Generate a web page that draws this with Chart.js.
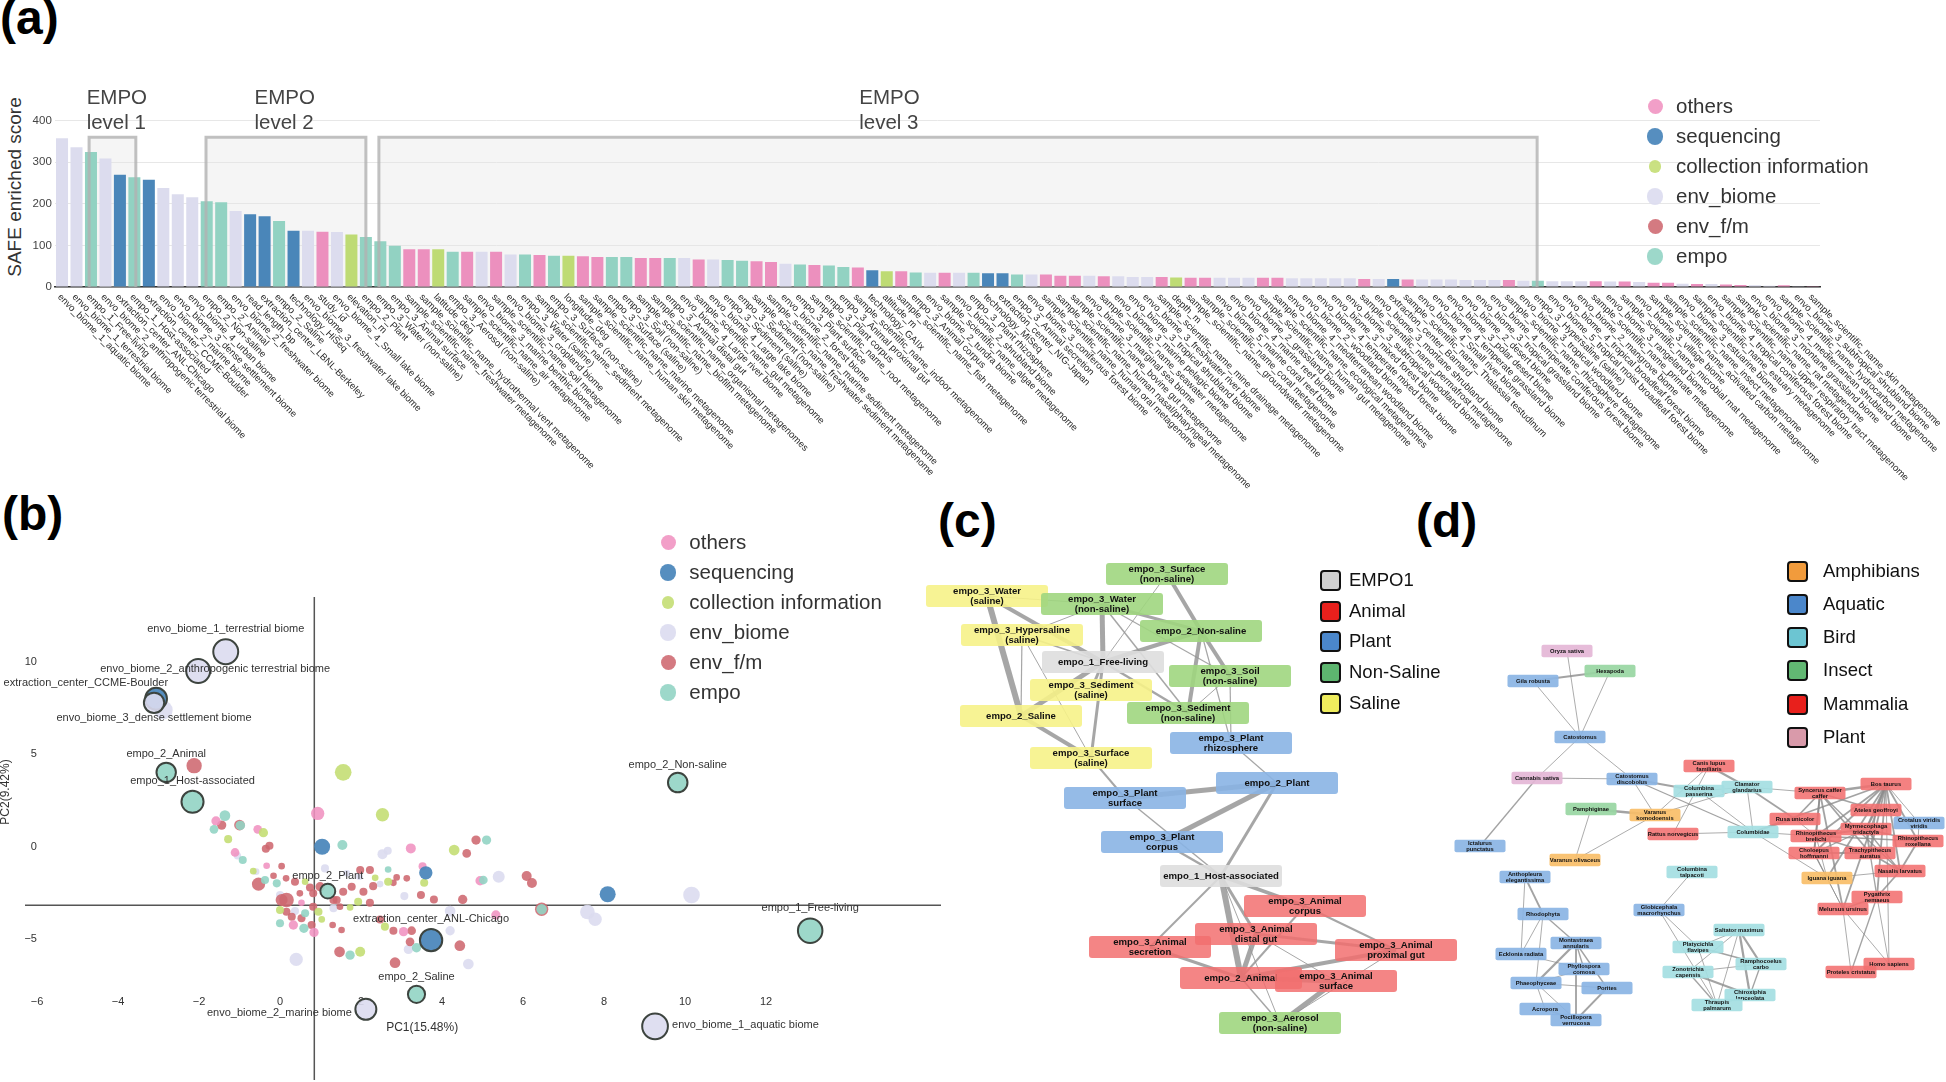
<!DOCTYPE html>
<html><head><meta charset="utf-8">
<script src="https://cdn.jsdelivr.net/npm/chart.js@4.4.0/dist/chart.umd.min.js"></script>
<style>
html,body{margin:0;padding:0;background:#fff;}
body{width:1946px;height:1082px;position:relative;overflow:hidden;font-family:"Liberation Sans",Arial,sans-serif;}
canvas{position:absolute;}
.plabel{position:absolute;font:bold 48px "Liberation Sans",Arial,sans-serif;color:#000;line-height:48px;white-space:nowrap;}
.ltxt{position:absolute;white-space:nowrap;}
.mk{position:absolute;}
</style></head><body>
<div class="plabel" style="left:0px;top:-6px">(a)</div>
<div class="plabel" style="left:2px;top:490px">(b)</div>
<div class="plabel" style="left:938px;top:497px">(c)</div>
<div class="plabel" style="left:1416px;top:497px">(d)</div>
<div id="ytitleA" class="ltxt" style="left:-85px;top:175px;width:200px;height:24px;line-height:24px;text-align:center;font-size:19px;color:#333;transform:rotate(-90deg);">SAFE enriched score</div>
<canvas id="cA" width="1946" height="500" style="left:0;top:0"></canvas>
<canvas id="cB" width="960" height="492" style="left:0;top:590px"></canvas>
<canvas id="cC" width="545" height="500" style="left:920px;top:555px"></canvas>
<canvas id="cD" width="516" height="410" style="left:1430px;top:640px"></canvas>
<script>
const FONT = '"Liberation Sans", Arial, sans-serif';
Chart.defaults.font.family = FONT;
Chart.defaults.animation = false;

// ---------------- (a) data ----------------
const categories = [
'envo_biome_1_aquatic biome','envo_biome_1_terrestrial biome','empo_1_Free-living','envo_biome_2_anthropogenic terrestrial biome',
'extraction_center_ANL-Chicago','empo_1_Host-associated','extraction_center_CCME-Boulder','envo_biome_2_marine biome',
'envo_biome_3_dense settlement biome','envo_biome_4_urban biome','empo_2_Non-saline','empo_2_Animal',
'envo_biome_2_freshwater biome','read_length_bp','extraction_center_LBNL-Berkeley','empo_2_Saline',
'technology_HiSeq','envo_biome_3_freshwater lake biome','study_id','envo_biome_4_Small lake biome',
'elevation_m','empo_2_Plant','empo_3_Water (non-saline)','empo_3_Animal surface',
'sample_scientific_name_freshwater metagenome','sample_scientific_name_hydrothermal vent metagenome','latitude_deg','empo_3_Aerosol (non-saline)',
'sample_scientific_name_air metagenome','envo_biome_3_marine benthic biome','sample_scientific_name_soil metagenome','envo_biome_3_cropland biome',
'empo_3_Water (saline)','sample_scientific_name_sediment metagenome','empo_3_Surface (non-saline)','longitude_deg',
'sample_scientific_name_human skin metagenome','sample_scientific_name_marine metagenome','empo_3_Surface (saline)','empo_3_Soil (non-saline)',
'sample_scientific_name_biofilm metagenome','sample_scientific_name_organismal metagenomes','empo_3_Animal distal gut','envo_biome_4_Large river biome',
'sample_scientific_name_gut metagenome','envo_biome_4_Large lake biome','empo_3_Sediment (saline)','empo_3_Sediment (non-saline)',
'sample_scientific_name_freshwater sediment metagenome','sample_scientific_name_marine sediment metagenome','envo_biome_2_forest biome','empo_3_Plant surface',
'sample_scientific_name_root metagenome','empo_3_Plant corpus','empo_3_Animal proximal gut','sample_scientific_name_indoor metagenome',
'technology_GAIIx','altitude_m','sample_scientific_name_fish metagenome','empo_3_Animal corpus',
'envo_biome_2_tundra biome','sample_scientific_name_algae metagenome','envo_biome_2_shrubland biome','empo_3_Plant rhizosphere',
'technology_MiSeq','extraction_center_NIG-Japan','empo_3_Animal secretion','envo_biome_3_coniferous forest biome',
'sample_scientific_name_human oral metagenome','sample_scientific_name_human nasal/pharyngeal metagenome','sample_scientific_name_bovine gut metagenome','envo_biome_3_marginal sea biome',
'sample_scientific_name_seawater metagenome','envo_biome_3_marine pelagic biome','envo_biome_3_tropical shrubland biome','envo_biome_3_freshwater river biome',
'sample_scientific_name_mine drainage metagenome','depth_m','sample_scientific_name_groundwater metagenome','sample_scientific_name_coral metagenome',
'envo_biome_5_marine coral reef biome','envo_biome_4_marine reef biome','envo_biome_2_grassland biome','sample_scientific_name_human gut metagenome',
'sample_scientific_name_ecological metagenomes','envo_biome_4_mediterranean woodland biome','envo_biome_2_woodland biome','envo_biome_4_temperate mixed forest biome',
'envo_biome_3_mixed forest biome','envo_biome_3_subtropical woodland biome','sample_scientific_name_permafrost metagenome','envo_biome_3_montane shrubland biome',
'extraction_center_Barnard','sample_scientific_name_Thalassia testudinum','envo_biome_4_Small river biome','envo_biome_4_temperate grassland biome',
'envo_biome_3_polar desert biome','envo_biome_2_desert biome','envo_biome_3_tropical grassland biome','envo_biome_4_temperate coniferous forest biome',
'sample_scientific_name_rhizosphere metagenome','envo_biome_3_tropical woodland biome','empo_3_Hypersaline (saline)','envo_biome_5_tropical moist broadleaf forest biome',
'envo_biome_4_tropical broadleaf forest biome','envo_biome_2_mangrove biome','sample_scientific_name_primate metagenome','envo_biome_3_rangeland biome',
'sample_scientific_name_microbial mat metagenome','envo_biome_3_village biome','sample_scientific_name_activated carbon metagenome','sample_scientific_name_insect metagenome',
'envo_biome_3_estuarine biome','sample_scientific_name_estuary metagenome','envo_biome_4_tropical coniferous forest biome','sample_scientific_name_upper respiratory tract metagenome',
'sample_scientific_name_rat metagenome','envo_biome_3_montane grassland biome','envo_biome_4_mediterranean shrubland biome','sample_scientific_name_hydrocarbon metagenome',
'envo_biome_3_subtropical shrubland biome','sample_scientific_name_skin metagenome'];
const scores = [358,336,325,309,270,264,258,238,223,216,206,204,183,175,170,159,135,135,133,132,
126,120,110,99,91,91,91,85,85,85,85,78,78,77,75,75,74,72,72,72,70,70,70,70,66,66,65,63,62,60,
56,54,53,52,48,47,40,38,38,35,34,34,34,34,33,33,30,30,30,27,27,27,26,26,24,24,24,23,22,22,
22,22,22,22,22,21,21,21,21,21,19,19,19,18,18,18,18,17,17,17,17,15,15,14,14,14,14,13,13,12,
10,10,8,7,7,6,5,4,3,4,2,2];
const yTicksA = [0,100,200,300,400];
const groupNames = ['others','sequencing','collection information','env_biome','env_f/m','empo'];
const empoBoxes = [
  {title:['EMPO','level 1'], from:1.87, to:5.1, textAt:1.7},
  {title:['EMPO','level 2'], from:9.95, to:21.0, textAt:13.3},
  {title:['EMPO','level 3'], from:21.9, to:101.95, textAt:55.1}
];
const empoBoxTop = 360;

// styles
const groupColor = {'others':'#ec90be','sequencing':'#4a86b9','collection information':'#bedb74','env_biome':'#dcdcee','env_f/m':'#d0727a','empo':'#92d2c2'};
const groupMarkerR = {'others':7.5,'sequencing':8.3,'collection information':6.3,'env_biome':8.3,'env_f/m':7.5,'empo':8.3};
function groupOf(name){
  if (name.startsWith('envo_biome')) return 'env_biome';
  if (name.startsWith('empo')) return 'empo';
  if (/^(extraction_center|technology|read_length)/.test(name)) return 'sequencing';
  if (/^(latitude|longitude|elevation|altitude|depth)/.test(name)) return 'collection information';
  return 'others';
}

const aPlugin = {
  id:'aDecor',
  beforeDatasetsDraw(chart){
    const {ctx, scales:{x,y}} = chart;
    ctx.save();
    ctx.fillStyle = 'rgba(228,228,228,0.38)';
    empoBoxes.forEach(b=>{
      const x0=x.getPixelForValue(b.from), x1=x.getPixelForValue(b.to);
      const y0=y.getPixelForValue(empoBoxTop), y1=y.getPixelForValue(0);
      ctx.fillRect(x0,y0,x1-x0,y1-y0);
    });
    ctx.restore();
  },
  afterDatasetsDraw(chart){
    const {ctx, scales:{x,y}} = chart;
    ctx.save();
    ctx.strokeStyle = 'rgba(178,178,178,0.8)';
    ctx.lineWidth = 3;
    empoBoxes.forEach(b=>{
      const x0=x.getPixelForValue(b.from), x1=x.getPixelForValue(b.to);
      const y0=y.getPixelForValue(empoBoxTop), y1=y.getPixelForValue(0);
      ctx.beginPath();
      ctx.moveTo(x0,y1); ctx.lineTo(x0,y0); ctx.lineTo(x1,y0); ctx.lineTo(x1,y1);
      ctx.stroke();
    });
    ctx.fillStyle = '#444';
    ctx.font = '20.5px ' + FONT;
    ctx.textAlign = 'left';
    ctx.textBaseline = 'alphabetic';
    empoBoxes.forEach(b=>{
      const tx = x.getPixelForValue(b.textAt);
      ctx.fillText(b.title[0], tx, y.getPixelForValue(439));
      ctx.fillText(b.title[1], tx, y.getPixelForValue(379));
    });
    ctx.restore();
  },
  afterDraw(chart){
    const {ctx, scales:{x,y}} = chart;
    ctx.save();
    ctx.fillStyle = '#2a2a2a';
    ctx.font = '9.6px ' + FONT;
    ctx.textAlign = 'left';
    ctx.textBaseline = 'middle';
    const y0 = y.getPixelForValue(0);
    categories.forEach((c,i)=>{
      const px = x.getPixelForValue(i);
      ctx.save();
      ctx.translate(px - 3, y0 + 8.5);
      ctx.rotate(Math.PI/4);
      ctx.fillText(c, 0, 0);
      ctx.restore();
    });
    ctx.restore();
  }
};

new Chart(document.getElementById('cA'), {
  type:'bar',
  data:{labels:categories, datasets:[{data:scores, backgroundColor:categories.map(c=>groupColor[groupOf(c)]), borderWidth:0, barPercentage:0.83, categoryPercentage:1}]},
  options:{
    responsive:false, animation:false, events:[],
    layout:{padding:{left:0,right:126,top:120.7,bottom:213}, autoPadding:false},
    plugins:{legend:{display:false}, tooltip:{enabled:false}},
    scales:{
      x:{grid:{display:false}, ticks:{display:false}, border:{display:true,color:'#333',width:1.5}, afterFit(s){s.height=0;}},
      y:{min:0,max:400, grid:{color:'#e7e7e7',drawTicks:false}, border:{display:false},
         afterBuildTicks(s){ s.ticks = yTicksA.map(v=>({value:v})); },
         ticks:{padding:3,color:'#444',font:{size:11.5}}, afterFit(s){s.width=54.8;}}
    }
  },
  plugins:[aPlugin]
});

// ---------------- (b) data ----------------
// [name, group, PC1, PC2, SAFE score]
const pcaLabelled = [
 ['envo_biome_1_terrestrial biome','env_biome',-1.34,10.54,336],
 ['envo_biome_2_anthropogenic terrestrial biome','env_biome',-2.02,9.50,309],
 ['extraction_center_CCME-Boulder','sequencing',-3.06,8.00,258],
 ['envo_biome_3_dense settlement biome','env_biome',-3.11,7.78,223],
 ['empo_2_Animal','empo',-2.81,4.02,204],
 ['empo_1_Host-associated','empo',-2.16,2.43,264],
 ['empo_2_Plant','empo',1.18,-2.40,120],
 ['extraction_center_ANL-Chicago','sequencing',3.73,-5.05,270],
 ['empo_2_Saline','empo',3.37,-7.98,159],
 ['envo_biome_2_marine biome','env_biome',2.12,-8.79,238],
 ['empo_2_Non-saline','empo',9.82,3.47,206],
 ['empo_1_Free-living','empo',13.09,-4.54,325],
 ['envo_biome_1_aquatic biome','env_biome',9.26,-9.71,358]
];
// [PC1, PC2, score]
const pcaOthers = [[0.93,1.80,96],[3.23,-0.09,54],[3.52,-1.05,35],[4.94,-1.84,47],[3.05,-4.59,47],[-1.58,1.39,47],[-0.55,0.94,41],[-1.11,-0.31,41],[-0.33,-1.03,24],[0.53,-3.03,24],[0.33,-4.23,47],[0.84,-4.63,47],[5.33,-3.69,47]];
const pcaSequencing = [[1.04,0.00,138],[3.60,-1.41,96],[8.09,-2.57,138]];
const pcaCollection = [[1.56,4.02,150],[2.53,1.73,96],[4.30,-0.18,62],[3.56,-1.95,35],[2.67,-1.89,35],[2.35,-1.68,24],[2.59,-4.32,35],[1.98,-5.68,54],[-0.41,0.76,47],[-1.28,0.41,35],[-0.66,-1.32,24],[0.62,-1.89,24],[0.95,-3.51,35],[0.00,-3.42,35],[1.03,-3.93,24],[1.93,-2.97,35],[1.73,-3.28,24]];
const pcaEnvBiome = [[-2.88,7.39,188],[2.53,-0.40,54],[2.66,-0.22,35],[5.40,-1.62,78],[3.07,-2.67,35],[4.20,-3.48,62],[4.20,-4.54,47],[4.65,-6.34,62],[3.17,-5.55,47],[0.40,-6.09,96],[-1.05,-0.49,29],[-0.59,-1.35,24],[0.00,-2.61,35],[0.37,-3.48,35],[1.11,-1.17,35],[1.65,-1.44,24],[1.96,-1.62,24],[2.47,-2.02,24],[1.32,-3.33,35],[10.16,-2.61,150],[7.59,-3.53,116],[7.78,-3.92,96]];
const pcaEnvFM = [[-2.12,4.38,127],[-1.44,1.17,47],[-1.00,1.17,62],[-0.26,0.05,35],[-0.35,-0.11,35],[0.04,-1.05,24],[-0.53,-2.02,96],[-0.16,-1.57,24],[0.15,-1.71,24],[0.16,-2.88,116],[0.04,-2.88,78],[0.37,-1.89,35],[0.74,-2.20,35],[0.49,-2.52,24],[0.82,-2.52,35],[0.82,-3.24,35],[0.16,-3.51,35],[0.29,-3.78,35],[0.53,-3.87,35],[0.78,-4.23,35],[1.30,-4.23,24],[1.52,-4.50,24],[1.40,-2.88,35],[1.56,-2.43,35],[1.77,-2.16,35],[1.98,-1.26,35],[2.22,-1.26,35],[2.06,-2.43,35],[2.30,-2.13,35],[2.22,-3.03,35],[0.99,-2.16,47],[1.32,-2.88,35],[1.48,-3.24,24],[2.88,-1.66,24],[2.80,-1.95,24],[3.13,-1.71,24],[3.80,-2.85,35],[3.48,-2.61,35],[4.51,-2.85,47],[4.84,0.36,47],[4.61,-0.36,41],[4.44,-5.35,62],[2.84,-6.27,62],[3.21,-5.14,41],[3.25,-4.54,41],[2.80,-4.54,35],[2.47,-3.93,35],[1.47,-5.68,62],[6.09,-1.58,54],[6.22,-1.96,54],[6.46,-3.38,96]];
const pcaEmpo = [[-1.36,1.68,62],[-1.63,0.94,41],[-0.98,1.15,50],[-0.92,-0.72,35],[-0.37,-1.80,35],[-0.08,-1.98,35],[0.62,-3.60,35],[0.00,-4.14,35],[0.59,-4.41,47],[1.54,0.09,54],[2.67,-1.23,24],[5.10,0.36,47],[5.02,-1.80,41],[3.37,-5.46,47],[1.73,-5.86,47],[6.46,-3.38,60]];
const pcaCross = {x:0.847, y:-3.17};
const xTicksB = [-6,-4,-2,0,2,4,6,8,10,12];
const yTicksB = [-5,0,5,10];
const pcaAxisTitles = {x:'PC1(15.48%)', y:'PC2(9.42%)'};

// styles for (b)
const bubbleFill = {'others':'rgba(240,146,192,0.88)','sequencing':'rgba(72,132,186,0.92)','collection information':'rgba(196,222,116,0.9)','env_biome':'rgba(220,220,240,0.9)','env_f/m':'rgba(206,104,112,0.88)','empo':'rgba(146,212,196,0.9)'};
const radiusFor = s => 0.68*Math.sqrt(s);
const labelPlacement = [['center',0,-23],['center',17,-2],['right',12,-16],['center',0,15],['center',0,-18],['center',0,-21],['center',0,-15],['center',0,-21],['center',0,-17],['right',-14,4],['center',0,-18],['center',0,-23],['left',17,-1]];
const toBubbles = arr => arr.map(p=>({x:p[0], y:p[1], r:radiusFor(p[2])}));
const minus = v => (v<0?'\u2212':'') + Math.abs(v);
function noPad(s){ s.paddingTop=0; s.paddingBottom=0; s.paddingLeft=0; s.paddingRight=0; }

const bPlugin = {
  id:'bDecor',
  beforeDatasetsDraw(chart){
    const {ctx, chartArea:a, scales:{x,y}} = chart;
    const px = x.getPixelForValue(pcaCross.x), py = y.getPixelForValue(pcaCross.y);
    ctx.save();
    ctx.strokeStyle = '#555'; ctx.lineWidth = 1.5;
    ctx.beginPath();
    ctx.moveTo(px,a.top); ctx.lineTo(px,a.bottom);
    ctx.moveTo(a.left,py); ctx.lineTo(a.right,py);
    ctx.stroke();
    ctx.restore();
  },
  afterDatasetsDraw(chart){
    const {ctx, scales:{x,y}} = chart;
    const meta = chart.getDatasetMeta(0);
    ctx.save();
    ctx.fillStyle = '#333';
    ctx.font = '11px ' + FONT;
    ctx.textBaseline = 'middle';
    pcaLabelled.forEach((p,i)=>{
      const el = meta.data[i]; const pl = labelPlacement[i];
      ctx.textAlign = pl[0];
      ctx.fillText(p[0], el.x + pl[1], el.y + pl[2]);
    });
    ctx.font = '12px ' + FONT;
    ctx.textAlign = 'center';
    ctx.fillText(pcaAxisTitles.x, x.getPixelForValue(3.51), y.getPixelForValue(-9.8));
    ctx.save();
    ctx.translate(x.getPixelForValue(-6.77), y.getPixelForValue(2.96));
    ctx.rotate(-Math.PI/2);
    ctx.fillText(pcaAxisTitles.y, 0, 0);
    ctx.restore();
    ctx.restore();
  }
};

new Chart(document.getElementById('cB'), {
  type:'bubble',
  data:{datasets:[
    {label:'labelled', data:pcaLabelled.map(p=>({x:p[2],y:p[3],r:radiusFor(p[4])})), backgroundColor:pcaLabelled.map(p=>bubbleFill[p[1]]), borderColor:'#3d443f', borderWidth:2, clip:false},
    {label:'empo', data:toBubbles(pcaEmpo), backgroundColor:bubbleFill['empo'], borderWidth:0, clip:false},
    {label:'sequencing', data:toBubbles(pcaSequencing), backgroundColor:bubbleFill['sequencing'], borderWidth:0, clip:false},
    {label:'collection information', data:toBubbles(pcaCollection), backgroundColor:bubbleFill['collection information'], borderWidth:0, clip:false},
    {label:'others', data:toBubbles(pcaOthers), backgroundColor:bubbleFill['others'], borderWidth:0, clip:false},
    {label:'env_f/m', data:toBubbles(pcaEnvFM), backgroundColor:bubbleFill['env_f/m'], borderWidth:0, clip:false},
    {label:'env_biome', data:toBubbles(pcaEnvBiome), backgroundColor:bubbleFill['env_biome'], borderWidth:0, clip:false}
  ]},
  options:{
    responsive:false, animation:false, events:[],
    layout:{padding:{left:25,right:19,top:7,bottom:2}, autoPadding:false},
    plugins:{legend:{display:false}, tooltip:{enabled:false}},
    scales:{
      x:{type:'linear', min:-6.296, max:16.32, position:{y:-7.58}, grid:{display:false}, border:{display:false},
         afterBuildTicks(s){ s.ticks = xTicksB.map(v=>({value:v})); },
         afterFit(s){ noPad(s); s.height = 0; },
         ticks:{padding:0, color:'#333', font:{size:11}, callback:v=>minus(v)}},
      y:{type:'linear', min:-12.61, max:13.5, position:{x:-6.0}, grid:{display:false}, border:{display:false},
         afterBuildTicks(s){ s.ticks = yTicksB.map(v=>({value:v})); },
         afterFit(s){ noPad(s); s.width = 0; },
         ticks:{padding:2, color:'#333', font:{size:11}, callback:v=>minus(v)}}
    }
  },
  plugins:[bPlugin]
});

// ---------------- (c) network ----------------
// [id, label, group, layoutX, layoutY]
const cNodes = [
 ['SurfNS','empo_3_Surface\n(non-saline)','Non-Saline',247,19],
 ['WatS','empo_3_Water\n(saline)','Saline',67,41],
 ['WatNS','empo_3_Water\n(non-saline)','Non-Saline',182,49],
 ['Hyper','empo_3_Hypersaline\n(saline)','Saline',102,80],
 ['NonSal','empo_2_Non-saline','Non-Saline',281,76],
 ['Free','empo_1_Free-living','EMPO1',183,107],
 ['Soil','empo_3_Soil\n(non-saline)','Non-Saline',310,121],
 ['SedS','empo_3_Sediment\n(saline)','Saline',171,135],
 ['SedNS','empo_3_Sediment\n(non-saline)','Non-Saline',268,158],
 ['Sal','empo_2_Saline','Saline',101,161],
 ['Rhizo','empo_3_Plant\nrhizosphere','Plant',311,188],
 ['SurfS','empo_3_Surface\n(saline)','Saline',171,203],
 ['Plant','empo_2_Plant','Plant',357,228],
 ['PSurf','empo_3_Plant\nsurface','Plant',205,243],
 ['PCorp','empo_3_Plant\ncorpus','Plant',242,287],
 ['Host','empo_1_Host-associated','EMPO1',301,321],
 ['ACorp','empo_3_Animal\ncorpus','Animal',385,351],
 ['ADist','empo_3_Animal\ndistal gut','Animal',336,379],
 ['ASecr','empo_3_Animal\nsecretion','Animal',230,392],
 ['AProx','empo_3_Animal\nproximal gut','Animal',476,395],
 ['Animal','empo_2_Animal','Animal',321,423],
 ['ASurf','empo_3_Animal\nsurface','Animal',416,426],
 ['Aero','empo_3_Aerosol\n(non-saline)','Non-Saline',360,468]
];
// [from, to, weight]
const cEdges = [
 ['WatS','Sal',6],['Hyper','Sal',1.2],['WatS','Free',4],['Sal','Free',5],['Sal','SurfS',4],['Free','WatNS',5],['Free','NonSal',4],
 ['Free','SedNS',2.5],['NonSal','SurfNS',4],['NonSal','Soil',4],['NonSal','SedNS',4],['WatNS','NonSal',3],['WatNS','Soil',1.2],
 ['WatNS','SedNS',1.5],['SurfNS','Free',1],['Hyper','WatNS',1],['Hyper','SurfS',1],['Hyper','Free',1.5],['Free','SurfS',3],
 ['Free','SedS',3],['Soil','SedNS',1],['Soil','Rhizo',1.2],['NonSal','Rhizo',1.2],['Rhizo','Plant',1.2],['Plant','PSurf',5],
 ['Plant','PCorp',5],['Plant','Host',3],['PSurf','Host',1.5],['PCorp','Host',2.5],['SurfS','PSurf',2],['Host','ACorp',3.5],
 ['Host','ADist',3],['Host','ASecr',2],['Host','Animal',6],['Animal','ADist',5],['Animal','ASecr',3],['Animal','ASurf',5],
 ['Animal','Aero',1.5],['ASurf','Aero',5],['ADist','AProx',3],['ACorp','AProx',2],['AProx','Animal',4],['ADist','ASurf',1],
 ['ACorp','Animal',2],['AProx','Aero',1],['Host','Aero',1],['WatS','WatNS',1]
];
const cGroups = ['EMPO1','Animal','Plant','Non-Saline','Saline'];
const cNodeFill = {'EMPO1':'rgba(222,222,222,0.9)','Animal':'rgba(242,112,112,0.85)','Plant':'rgba(138,180,228,0.9)','Non-Saline':'rgba(160,214,128,0.9)','Saline':'rgba(246,242,136,0.9)'};
const cLegendFill = {'EMPO1':'#d0d0d0','Animal':'#e8201c','Plant':'#4b87cb','Non-Saline':'#5db56f','Saline':'#efed5d'};

// ---------------- (d) network ----------------
const dNodes = [
 ['Oryza','Oryza sativa','Plant',137,11],['Hexa','Hexapoda','Insect',180,31],['Gila','Gila robusta','Aquatic',103,41],
 ['Cato','Catostomus','Aquatic',150,97],['Cann','Cannabis sativa','Plant',107,138],['CatD','Catostomus\ndiscobolus','Aquatic',202,139],
 ['Canis','Canis lupus\nfamiliaris','Mammalia',279,126],['ColP','Columbina\npasserina','Bird',269,151],['Clam','Clamator\nglandarius','Bird',317,147],
 ['Pamph','Pamphiginae','Insect',161,169],['VarK','Varanus\nkomodoensis','Amphibians',225,175],['Ict','Ictalurus\npunctatus','Aquatic',50,206],
 ['Ratt','Rattus norvegicus','Mammalia',243,194],['Colu','Columbidae','Bird',323,192],['VarO','Varanus olivaceus','Amphibians',145,220],
 ['Sync','Syncerus caffer\ncaffer','Mammalia',390,153],['Bos','Bos taurus','Mammalia',456,144],['Rusa','Rusa unicolor','Mammalia',365,179],
 ['Atel','Ateles geoffroyi','Mammalia',446,170],['Crot','Crotalus viridis\nviridis','Aquatic',489,183],['Myrm','Myrmecophaga\ntridactyla','Mammalia',436,189],
 ['RhiB','Rhinopithecus\nbrelichi','Mammalia',386,196],['RhiR','Rhinopithecus\nroxellana','Mammalia',488,201],['Chol','Choloepus\nhoffmanni','Mammalia',384,213],
 ['Trac','Trachypithecus\nauratus','Mammalia',440,213],['Nasa','Nasalis larvatus','Mammalia',470,231],['Igua','Iguana iguana','Amphibians',397,238],
 ['Pyga','Pygathrix\nnemaeus','Mammalia',447,257],['Melu','Melursus ursinus','Mammalia',413,269],['ColT','Columbina\ntalpacoti','Bird',262,232],
 ['Anth','Anthopleura\nelegantissima','Aquatic',95,237],['Glob','Globicephala\nmacrorhynchus','Aquatic',229,270],['Rhod','Rhodophyta','Aquatic',113,274],
 ['Salt','Saltator maximus','Bird',309,290],['Mont','Montastraea\nannularis','Aquatic',146,303],['Plat','Platycichla\nflavipes','Bird',268,307],
 ['Eckl','Ecklonia radiata','Aquatic',91,314],['Ramp','Ramphocoelus\ncarbo','Bird',331,324],['Homo','Homo sapiens','Mammalia',459,324],
 ['Phyl','Phyllospora\ncomosa','Aquatic',154,329],['Zono','Zonotrichia\ncapensis','Bird',258,332],['Prot','Proteles cristatus','Mammalia',421,332],
 ['Phae','Phaeophyceae','Aquatic',106,343],['Pori','Porites','Aquatic',177,348],['Chir','Chiroxiphia\nlanceolata','Bird',320,355],
 ['Thra','Thraupis\npalmarum','Bird',287,365],['Acro','Acropora','Aquatic',115,369],['Poci','Pocillopora\nverrucosa','Aquatic',146,380]
];
const dEdges = [
 ['Oryza','Cato',1],['Gila','Hexa',2],['Gila','Cato',1],['Hexa','Cato',1],['Cato','Cann',1],['Cato','CatD',1],['Cann','CatD',1],['Cann','Ict',1.5],
 ['CatD','ColP',2.5],['CatD','VarK',1],['CatD','Colu',1.5],['Pamph','VarK',3],['Pamph','VarO',1],['VarK','VarO',1],['VarK','Canis',1],['VarK','Clam',1],
 ['Canis','Clam',2.5],['Canis','Ratt',1],['ColP','Colu',1],['ColP','Clam',1],['Ratt','Colu',1],['Clam','Colu',1],['Clam','Sync',1],['Clam','Rusa',2],
 ['Colu','Rusa',1.5],['Colu','Bos',2],['Colu','RhiB',1],['Colu','Igua',1],
 ['Bos','Sync',3],['Bos','Atel',2],['Bos','Myrm',2],['Bos','RhiB',2],['Bos','RhiR',2],['Bos','Crot',1],['Bos','Chol',2],['Bos','Trac',2],['Bos','Nasa',2],
 ['Bos','Pyga',2],['Bos','Melu',2],['Bos','Igua',2],['Bos','Homo',1],['Sync','Atel',2],['Sync','RhiB',2],['Sync','Chol',2],['Sync','Melu',2],['Sync','Trac',2],
 ['Sync','Nasa',1.5],['Sync','Rusa',2],['Atel','Myrm',2],['Atel','Trac',1.5],['Myrm','RhiB',2],['Myrm','RhiR',1.5],['Myrm','Trac',2],['Myrm','Chol',1.5],
 ['Myrm','Nasa',1.5],['RhiB','Trac',2],['RhiB','Chol',2],['RhiB','RhiR',1.5],['Chol','Trac',2],['Chol','Igua',1.5],['Chol','Melu',1],['Trac','Nasa',2],
 ['Trac','Pyga',1.5],['RhiR','Nasa',2],['Nasa','Pyga',2],['Nasa','Igua',1],['Pyga','Melu',1.5],['Pyga','Prot',1.5],['Pyga','Homo',1],['Melu','Prot',1],
 ['Melu','Homo',1],['Igua','Melu',1],['Crot','RhiR',1],['Crot','Atel',1],['RhiB','Igua',1],['Rusa','RhiB',1],
 ['ColT','Glob',1],['Glob','Thra',1],['Glob','Plat',1],['Salt','Plat',1],['Salt','Ramp',2.5],['Salt','Zono',1],['Salt','Chir',2.5],['Salt','Thra',1],
 ['Plat','Ramp',2],['Plat','Thra',1],['Zono','Chir',2.5],['Zono','Ramp',1],['Zono','Thra',1.5],['Ramp','Chir',1.5],['Chir','Thra',1],
 ['Anth','Rhod',2],['Anth','Eckl',1],['Rhod','Eckl',1],['Rhod','Mont',1.5],['Rhod','Phae',1],['Mont','Phyl',1.5],['Mont','Phae',2.5],['Mont','Pori',1.5],
 ['Mont','Poci',1],['Phae','Pori',1],['Phae','Acro',1],['Acro','Poci',2],['Pori','Poci',2],['Eckl','Phyl',1],['Phae','Poci',1],['Phyl','Phae',1]
];
const dGroups = ['Amphibians','Aquatic','Bird','Insect','Mammalia','Plant'];
const dNodeFill = {'Amphibians':'rgba(249,190,104,0.92)','Aquatic':'rgba(138,180,228,0.92)','Bird':'rgba(164,222,226,0.92)','Insect':'rgba(152,214,162,0.92)','Mammalia':'rgba(242,112,112,0.88)','Plant':'rgba(228,182,214,0.92)'};
const dLegendFill = {'Amphibians':'#f19b3c','Aquatic':'#4b87cb','Bird':'#6cc5d2','Insect':'#62b873','Mammalia':'#e8201c','Plant':'#d99aaa'};

function roundRect(ctx,x,y,w,h,r){
  ctx.beginPath();
  ctx.moveTo(x+r,y); ctx.lineTo(x+w-r,y); ctx.quadraticCurveTo(x+w,y,x+w,y+r);
  ctx.lineTo(x+w,y+h-r); ctx.quadraticCurveTo(x+w,y+h,x+w-r,y+h);
  ctx.lineTo(x+r,y+h); ctx.quadraticCurveTo(x,y+h,x,y+h-r);
  ctx.lineTo(x,y+r); ctx.quadraticCurveTo(x,y,x+r,y); ctx.closePath();
}

function makeNetwork(canvasId, nodes, edges, fills, style){
  const idx = Object.fromEntries(nodes.map((n,i)=>[n[0],i]));
  const canvas = document.getElementById(canvasId);
  const datasets = edges.map(e=>{
    const a = nodes[idx[e[0]]], b = nodes[idx[e[1]]];
    return {data:[{x:a[3],y:a[4]},{x:b[3],y:b[4]}], showLine:true, borderColor:style.edge, borderWidth:e[2]*style.edgeScale, pointRadius:0, fill:false, clip:false};
  });
  datasets.push({data:nodes.map(n=>({x:n[3],y:n[4]})), showLine:false, pointRadius:0});
  const nodeSet = datasets.length-1;
  const plugin = {
    id:'nodes_'+canvasId,
    afterDatasetsDraw(chart){
      const ctx = chart.ctx;
      const meta = chart.getDatasetMeta(nodeSet);
      ctx.save();
      nodes.forEach((n,i)=>{
        const el = meta.data[i];
        const w = style.w, h = style.h;
        ctx.fillStyle = fills[n[2]];
        roundRect(ctx, el.x-w/2, el.y-h/2, w, h, style.radius);
        ctx.fill();
        ctx.fillStyle = '#111';
        ctx.font = 'bold ' + style.font + 'px ' + FONT;
        ctx.textAlign = 'center'; ctx.textBaseline = 'middle';
        const lines = n[1].split('\n');
        lines.forEach((ln,k)=>{
          ctx.fillText(ln, el.x, el.y + (k - (lines.length-1)/2)*style.lineH + 0.5);
        });
      });
      ctx.restore();
    }
  };
  new Chart(canvas, {
    type:'scatter',
    data:{datasets},
    options:{responsive:false, animation:false, events:[],
      layout:{padding:0, autoPadding:false},
      plugins:{legend:{display:false}, tooltip:{enabled:false}},
      scales:{x:{type:'linear',min:0,max:canvas.width,display:false}, y:{type:'linear',min:0,max:canvas.height,reverse:true,display:false}}},
    plugins:[plugin]
  });
}
makeNetwork('cC', cNodes, cEdges, cNodeFill, {w:122,h:22,radius:3,font:9.6,lineH:10.6,edge:'rgba(150,150,150,0.85)',edgeScale:1});
makeNetwork('cD', dNodes, dEdges, dNodeFill, {w:51,h:12.5,radius:2,font:5.8,lineH:6.2,edge:'rgba(140,140,140,0.8)',edgeScale:0.9});

// ---------------- HTML legends ----------------
function addText(txt, left, cy, size, color){
  const d = document.createElement('div');
  d.className = 'ltxt';
  const lh = Math.round(size*1.25);
  d.style.cssText += `left:${left}px;top:${cy - lh/2 - 1}px;font-size:${size}px;line-height:${lh}px;color:${color};`;
  d.textContent = txt;
  document.body.appendChild(d);
}
function circleLegend(cx, textX, y0, dy){
  groupNames.forEach((g,i)=>{
    const cy = y0 + i*dy, r = groupMarkerR[g];
    const m = document.createElement('div');
    m.className = 'mk';
    m.style.cssText = `left:${cx-r}px;top:${cy-r}px;width:${2*r}px;height:${2*r}px;border-radius:50%;background:${bubbleFill[g]};`;
    document.body.appendChild(m);
    addText(g, textX, cy, 20.5, '#333');
  });
}
circleLegend(1655, 1676, 106.7, 30);
circleLegend(668, 689.3, 542.5, 30);
function boxLegend(names, fills, left, textX, y0, dy){
  names.forEach((g,i)=>{
    const cy = y0 + i*dy;
    const m = document.createElement('div');
    m.className = 'mk';
    m.style.cssText = `left:${left}px;top:${cy-10.5}px;width:17px;height:17px;border:2px solid #111;border-radius:4px;background:${fills[g]};`;
    document.body.appendChild(m);
    addText(g, textX, cy, 18.5, '#111');
  });
}
boxLegend(cGroups, cLegendFill, 1320, 1349, 580.5, 30.7);
boxLegend(dGroups, dLegendFill, 1787, 1823, 571, 33.3);
</script>
</body></html>
